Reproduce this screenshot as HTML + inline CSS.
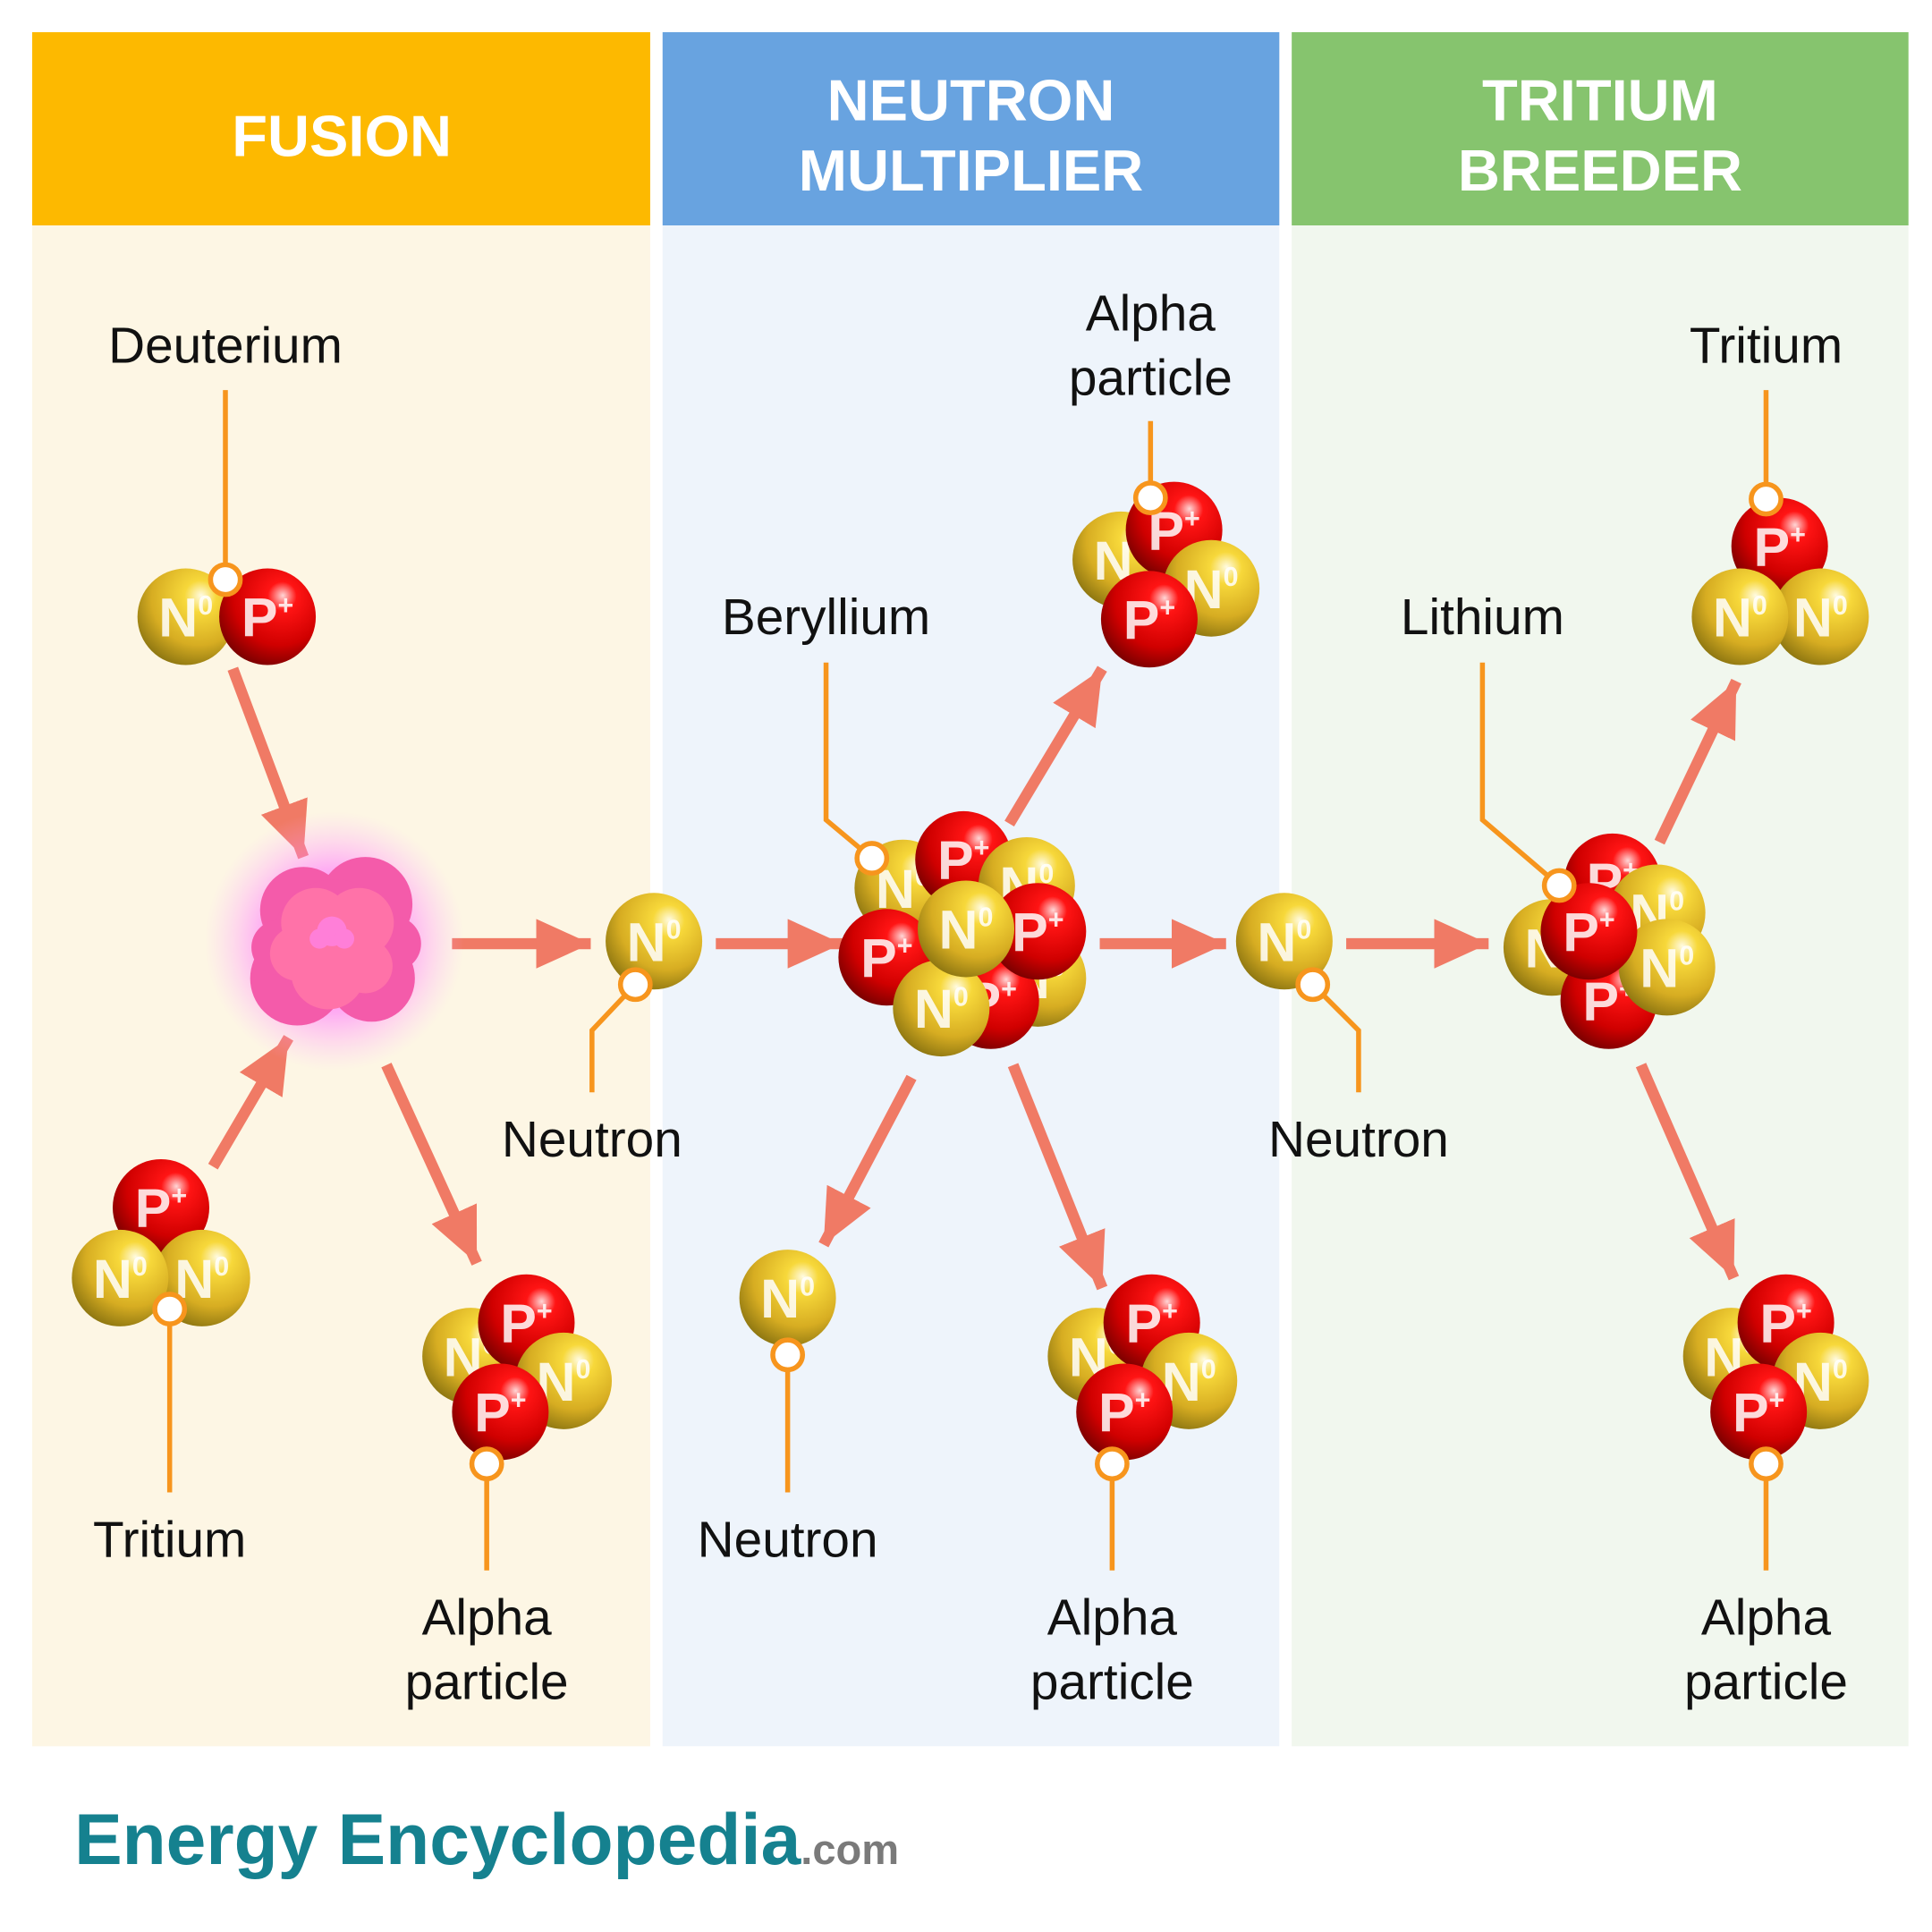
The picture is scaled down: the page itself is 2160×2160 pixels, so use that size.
<!DOCTYPE html>
<html><head><meta charset="utf-8"><style>
html,body{margin:0;padding:0;background:#fff}
svg{display:block}
.lb{font-family:"Liberation Sans",sans-serif;font-size:41px;fill:#111;text-anchor:middle}
.hd{font-family:"Liberation Sans",sans-serif;font-size:47px;font-weight:bold;fill:#fff;text-anchor:middle}
.bl{font-family:"Liberation Sans",sans-serif;font-weight:bold;font-size:44px;fill:#fff;fill-opacity:.85;text-anchor:middle}
.sp{font-size:22px}
.ln{stroke:#F7951D;stroke-width:4;fill:none}
.dot{fill:#fff;stroke:#F7951D;stroke-width:4}
.ar{stroke:#F07A65;stroke-width:9;marker-end:url(#ah)}
</style></head><body>
<svg width="2160" height="2160" viewBox="0 0 1560 1560" xmlns="http://www.w3.org/2000/svg">
<defs>
<radialGradient id="gN" cx="0.62" cy="0.32" r="0.75" fx="0.66" fy="0.28">
<stop offset="0" stop-color="#fffbe2"/><stop offset="0.22" stop-color="#f7d83a"/><stop offset="0.65" stop-color="#d7ad22"/><stop offset="1" stop-color="#85700f"/></radialGradient>
<radialGradient id="gP" cx="0.62" cy="0.32" r="0.75" fx="0.66" fy="0.28">
<stop offset="0" stop-color="#ffd6d6"/><stop offset="0.2" stop-color="#ff1414"/><stop offset="0.65" stop-color="#d00000"/><stop offset="1" stop-color="#700000"/></radialGradient>
<radialGradient id="glow" cx="0.5" cy="0.5" r="0.5">
<stop offset="0" stop-color="#ff40ff" stop-opacity="0.9"/><stop offset="0.55" stop-color="#ff70ff" stop-opacity="0.55"/><stop offset="1" stop-color="#ffb0ff" stop-opacity="0"/></radialGradient>
<marker id="ah" markerUnits="userSpaceOnUse" markerWidth="50" markerHeight="50" refX="44" refY="20" orient="auto">
<path d="M0,0 L44,20 L0,40 Z" fill="#F07A65"/></marker>
</defs>
<rect x="26" y="182" width="499" height="1228" fill="#FDF6E4"/>
<rect x="535" y="182" width="498" height="1228" fill="#EEF4FB"/>
<rect x="1043" y="182" width="498" height="1228" fill="#F1F7EE"/>
<rect x="26" y="26" width="499" height="156" fill="#FDB900"/>
<rect x="535" y="26" width="498" height="156" fill="#68A3E0"/>
<rect x="1043" y="26" width="498" height="156" fill="#86C46E"/>
<text class="hd" x="276" y="126">FUSION</text>
<text class="hd" x="784" y="97">NEUTRON</text><text class="hd" x="784" y="154">MULTIPLIER</text>
<text class="hd" x="1292" y="97">TRITIUM</text><text class="hd" x="1292" y="154">BREEDER</text>

<line class="ar" x1="188" y1="540" x2="245" y2="692"/>
<line class="ar" x1="172" y1="942" x2="233" y2="838"/>
<line class="ar" x1="312" y1="860" x2="385" y2="1020"/>
<line class="ar" x1="365" y1="762" x2="477" y2="762"/>
<line class="ar" x1="578" y1="762" x2="680" y2="762"/>
<line class="ar" x1="815" y1="665" x2="890" y2="540"/>
<line class="ar" x1="736" y1="870" x2="665" y2="1005"/>
<line class="ar" x1="818" y1="860" x2="890" y2="1040"/>
<line class="ar" x1="888" y1="762" x2="990" y2="762"/>
<line class="ar" x1="1087" y1="762" x2="1202" y2="762"/>
<line class="ar" x1="1340" y1="680" x2="1402" y2="550"/>
<line class="ar" x1="1325" y1="860" x2="1400" y2="1032"/>

<circle cx="270" cy="760" r="105" fill="url(#glow)"/>
<g fill="#F45BAA">
<circle cx="245" cy="735" r="35"/><circle cx="295" cy="730" r="38"/><circle cx="240" cy="790" r="38"/><circle cx="300" cy="790" r="35"/><circle cx="270" cy="760" r="50"/><circle cx="225" cy="765" r="22"/><circle cx="318" cy="762" r="22"/></g>
<g fill="#FF72A8">
<circle cx="255" cy="745" r="28"/><circle cx="290" cy="745" r="28"/><circle cx="265" cy="785" r="30"/><circle cx="295" cy="780" r="22"/><circle cx="240" cy="770" r="22"/></g>
<g fill="#FF7FD8"><circle cx="268" cy="752" r="12"/><circle cx="258" cy="758" r="8"/><circle cx="278" cy="758" r="8"/></g>

<path class="ln" d="M182 315 V468"/>
<path class="ln" d="M137 1057 V1205"/>
<path class="ln" d="M393 1182 V1268"/>
<path class="ln" d="M513 795 L478 832 V882"/>
<path class="ln" d="M667 535 V662 L704 693"/>
<path class="ln" d="M929 402 V340"/>
<path class="ln" d="M636 1094 V1205"/>
<path class="ln" d="M898 1182 V1268"/>
<path class="ln" d="M1060 795 L1097 832 V882"/>
<path class="ln" d="M1197 535 V662 L1259 715"/>
<path class="ln" d="M1426 403 V315"/>
<path class="ln" d="M1426 1182 V1268"/>

<g transform="translate(150,498)"><circle r="39" fill="url(#gN)"/><text class="bl" y="16">N<tspan class="sp" dy="-18">0</tspan></text></g>
<g transform="translate(216,498)"><circle r="39" fill="url(#gP)"/><text class="bl" y="16">P<tspan class="sp" dy="-18">+</tspan></text></g>
<g transform="translate(130,975)"><circle r="39" fill="url(#gP)"/><text class="bl" y="16">P<tspan class="sp" dy="-18">+</tspan></text></g>
<g transform="translate(163,1032)"><circle r="39" fill="url(#gN)"/><text class="bl" y="16">N<tspan class="sp" dy="-18">0</tspan></text></g>
<g transform="translate(97,1032)"><circle r="39" fill="url(#gN)"/><text class="bl" y="16">N<tspan class="sp" dy="-18">0</tspan></text></g>
<g transform="translate(380,1095)"><circle r="39" fill="url(#gN)"/><text class="bl" y="16">N<tspan class="sp" dy="-18">0</tspan></text></g>
<g transform="translate(425,1068)"><circle r="39" fill="url(#gP)"/><text class="bl" y="16">P<tspan class="sp" dy="-18">+</tspan></text></g>
<g transform="translate(455,1115)"><circle r="39" fill="url(#gN)"/><text class="bl" y="16">N<tspan class="sp" dy="-18">0</tspan></text></g>
<g transform="translate(404,1140)"><circle r="39" fill="url(#gP)"/><text class="bl" y="16">P<tspan class="sp" dy="-18">+</tspan></text></g>
<g transform="translate(528,760)"><circle r="39" fill="url(#gN)"/><text class="bl" y="16">N<tspan class="sp" dy="-18">0</tspan></text></g>
<g transform="translate(729,717)"><circle r="39" fill="url(#gN)"/><text class="bl" y="16">N<tspan class="sp" dy="-18">0</tspan></text></g>
<g transform="translate(778,694)"><circle r="39" fill="url(#gP)"/><text class="bl" y="16">P<tspan class="sp" dy="-18">+</tspan></text></g>
<g transform="translate(829,715)"><circle r="39" fill="url(#gN)"/><text class="bl" y="16">N<tspan class="sp" dy="-18">0</tspan></text></g>
<g transform="translate(716,773)"><circle r="39" fill="url(#gP)"/><text class="bl" y="16">P<tspan class="sp" dy="-18">+</tspan></text></g>
<g transform="translate(838,790)"><circle r="39" fill="url(#gN)"/><text class="bl" y="16">N<tspan class="sp" dy="-18">0</tspan></text></g>
<g transform="translate(800,808)"><circle r="39" fill="url(#gP)"/><text class="bl" y="16">P<tspan class="sp" dy="-18">+</tspan></text></g>
<g transform="translate(760,814)"><circle r="39" fill="url(#gN)"/><text class="bl" y="16">N<tspan class="sp" dy="-18">0</tspan></text></g>
<g transform="translate(838,752)"><circle r="39" fill="url(#gP)"/><text class="bl" y="16">P<tspan class="sp" dy="-18">+</tspan></text></g>
<g transform="translate(780,750)"><circle r="39" fill="url(#gN)"/><text class="bl" y="16">N<tspan class="sp" dy="-18">0</tspan></text></g>
<g transform="translate(905,452)"><circle r="39" fill="url(#gN)"/><text class="bl" y="16">N<tspan class="sp" dy="-18">0</tspan></text></g>
<g transform="translate(948,428)"><circle r="39" fill="url(#gP)"/><text class="bl" y="16">P<tspan class="sp" dy="-18">+</tspan></text></g>
<g transform="translate(978,475)"><circle r="39" fill="url(#gN)"/><text class="bl" y="16">N<tspan class="sp" dy="-18">0</tspan></text></g>
<g transform="translate(928,500)"><circle r="39" fill="url(#gP)"/><text class="bl" y="16">P<tspan class="sp" dy="-18">+</tspan></text></g>
<g transform="translate(636,1048)"><circle r="39" fill="url(#gN)"/><text class="bl" y="16">N<tspan class="sp" dy="-18">0</tspan></text></g>
<g transform="translate(885,1095)"><circle r="39" fill="url(#gN)"/><text class="bl" y="16">N<tspan class="sp" dy="-18">0</tspan></text></g>
<g transform="translate(930,1068)"><circle r="39" fill="url(#gP)"/><text class="bl" y="16">P<tspan class="sp" dy="-18">+</tspan></text></g>
<g transform="translate(960,1115)"><circle r="39" fill="url(#gN)"/><text class="bl" y="16">N<tspan class="sp" dy="-18">0</tspan></text></g>
<g transform="translate(908,1140)"><circle r="39" fill="url(#gP)"/><text class="bl" y="16">P<tspan class="sp" dy="-18">+</tspan></text></g>
<g transform="translate(1037,760)"><circle r="39" fill="url(#gN)"/><text class="bl" y="16">N<tspan class="sp" dy="-18">0</tspan></text></g>
<g transform="translate(1253,765)"><circle r="39" fill="url(#gN)"/><text class="bl" y="16">N<tspan class="sp" dy="-18">0</tspan></text></g>
<g transform="translate(1302,712)"><circle r="39" fill="url(#gP)"/><text class="bl" y="16">P<tspan class="sp" dy="-18">+</tspan></text></g>
<g transform="translate(1338,737)"><circle r="39" fill="url(#gN)"/><text class="bl" y="16">N<tspan class="sp" dy="-18">0</tspan></text></g>
<g transform="translate(1299,808)"><circle r="39" fill="url(#gP)"/><text class="bl" y="16">P<tspan class="sp" dy="-18">+</tspan></text></g>
<g transform="translate(1346,781)"><circle r="39" fill="url(#gN)"/><text class="bl" y="16">N<tspan class="sp" dy="-18">0</tspan></text></g>
<g transform="translate(1283,752)"><circle r="39" fill="url(#gP)"/><text class="bl" y="16">P<tspan class="sp" dy="-18">+</tspan></text></g>
<g transform="translate(1437,441)"><circle r="39" fill="url(#gP)"/><text class="bl" y="16">P<tspan class="sp" dy="-18">+</tspan></text></g>
<g transform="translate(1470,498)"><circle r="39" fill="url(#gN)"/><text class="bl" y="16">N<tspan class="sp" dy="-18">0</tspan></text></g>
<g transform="translate(1405,498)"><circle r="39" fill="url(#gN)"/><text class="bl" y="16">N<tspan class="sp" dy="-18">0</tspan></text></g>
<g transform="translate(1398,1095)"><circle r="39" fill="url(#gN)"/><text class="bl" y="16">N<tspan class="sp" dy="-18">0</tspan></text></g>
<g transform="translate(1442,1068)"><circle r="39" fill="url(#gP)"/><text class="bl" y="16">P<tspan class="sp" dy="-18">+</tspan></text></g>
<g transform="translate(1470,1115)"><circle r="39" fill="url(#gN)"/><text class="bl" y="16">N<tspan class="sp" dy="-18">0</tspan></text></g>
<g transform="translate(1420,1140)"><circle r="39" fill="url(#gP)"/><text class="bl" y="16">P<tspan class="sp" dy="-18">+</tspan></text></g>

<circle class="dot" cx="182" cy="468" r="12"/>
<circle class="dot" cx="137" cy="1057" r="12"/>
<circle class="dot" cx="393" cy="1182" r="12"/>
<circle class="dot" cx="513" cy="795" r="12"/>
<circle class="dot" cx="704" cy="693" r="12"/>
<circle class="dot" cx="929" cy="402" r="12"/>
<circle class="dot" cx="636" cy="1094" r="12"/>
<circle class="dot" cx="898" cy="1182" r="12"/>
<circle class="dot" cx="1060" cy="795" r="12"/>
<circle class="dot" cx="1259" cy="715" r="12"/>
<circle class="dot" cx="1426" cy="403" r="12"/>
<circle class="dot" cx="1426" cy="1182" r="12"/>

<text class="lb" x="182" y="293">Deuterium</text>
<text class="lb" x="137" y="1257">Tritium</text>
<text class="lb" x="393" y="1320">Alpha</text><text class="lb" x="393" y="1372">particle</text>
<text class="lb" x="478" y="934">Neutron</text>
<text class="lb" x="667" y="512">Beryllium</text>
<text class="lb" x="929" y="267">Alpha</text><text class="lb" x="929" y="319">particle</text>
<text class="lb" x="636" y="1257">Neutron</text>
<text class="lb" x="898" y="1320">Alpha</text><text class="lb" x="898" y="1372">particle</text>
<text class="lb" x="1097" y="934">Neutron</text>
<text class="lb" x="1197" y="512">Lithium</text>
<text class="lb" x="1426" y="293">Tritium</text>
<text class="lb" x="1426" y="1320">Alpha</text><text class="lb" x="1426" y="1372">particle</text>

<text x="60" y="1505" font-family="Liberation Sans, sans-serif" font-weight="bold" font-size="58" fill="#15818F">Energy Encyclopedia<tspan font-size="34" fill="#7a7a7a">.com</tspan></text>
</svg>
</body></html>
